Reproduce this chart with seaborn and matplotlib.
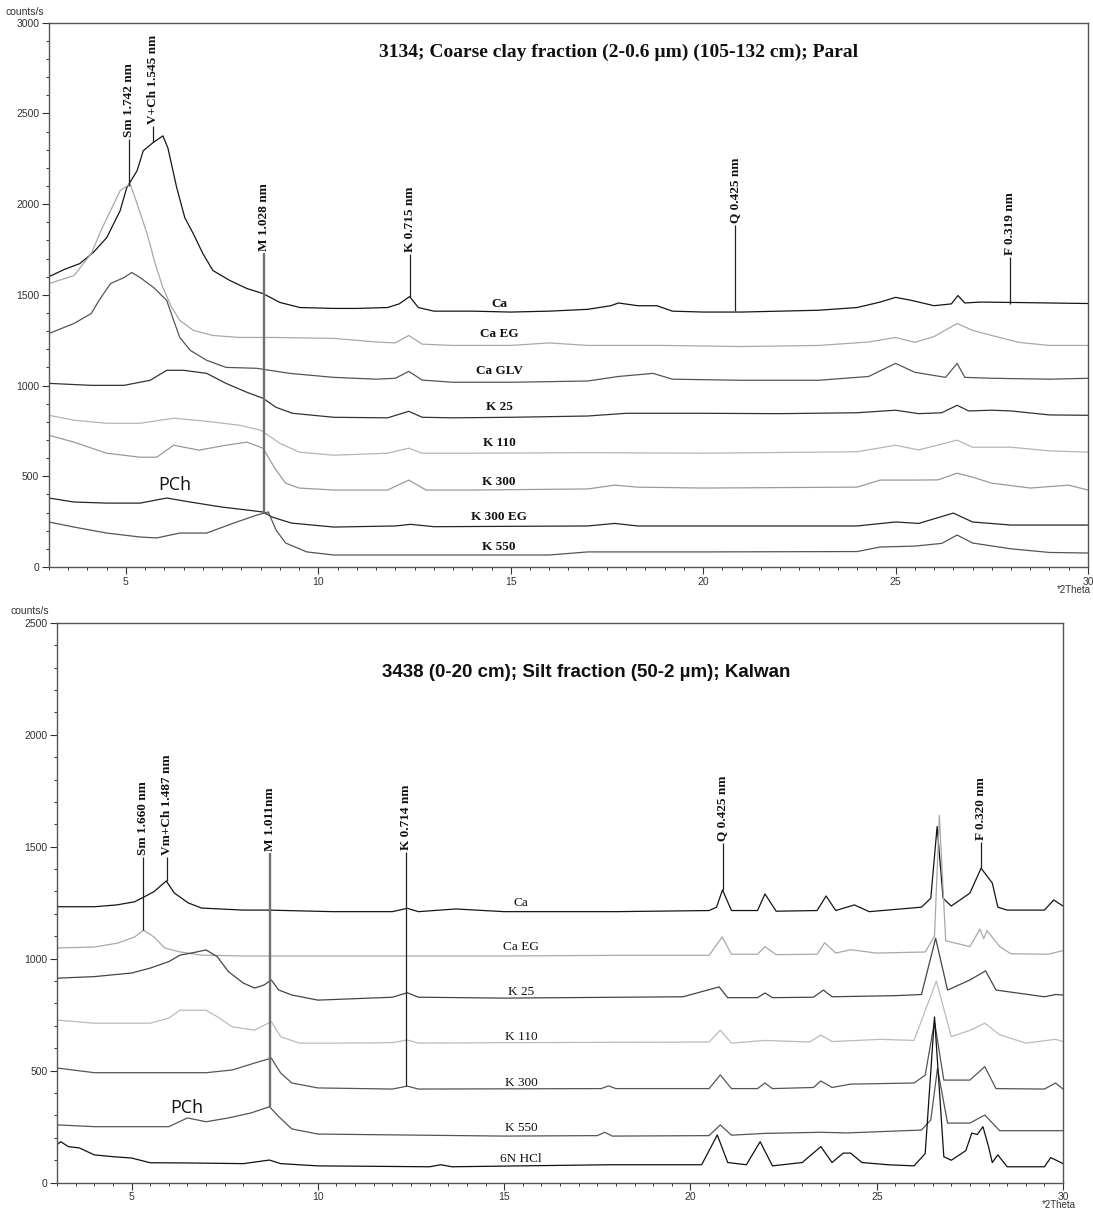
import matplotlib
matplotlib.use("Agg")
import matplotlib.pyplot as plt
from matplotlib.ticker import MultipleLocator
import seaborn as sns

# ---------------- top panel: 3134 coarse clay, Paral ----------------
top_ca_x = [3.0, 3.4, 3.8, 4.15, 4.5, 4.85, 5.02, 5.29, 5.45, 5.7, 5.96, 6.09, 6.32, 6.53, 6.75, 7.0, 7.26, 7.7,
            8.14, 8.56, 9.0, 9.52, 10.4, 11.0, 11.8, 12.1, 12.37, 12.6, 13.0, 14.0, 15.0, 16.0, 17.0, 17.6, 17.8,
            18.3, 18.8, 19.2, 20.0, 21.0, 22.0, 23.0, 24.0, 24.6, 25.0, 25.4, 26.0, 26.45, 26.62, 26.8, 27.2, 28.0,
            29.0, 30.0]
top_ca_y = [1600, 1640, 1672, 1733, 1815, 1964, 2090, 2184, 2294, 2338, 2376, 2310, 2090, 1925, 1837, 1727, 1634,
            1579, 1535, 1507, 1458, 1430, 1425, 1425, 1430, 1450, 1490, 1430, 1410, 1410, 1405, 1410, 1420, 1440,
            1455, 1440, 1440, 1410, 1405, 1405, 1410, 1415, 1430, 1460, 1486, 1470, 1440, 1450, 1496, 1455, 1460,
            1458, 1455, 1452]

top_caeg_x = [3.0, 3.65, 4.1, 4.35, 4.6, 4.85, 5.11, 5.29, 5.55, 5.76, 5.96, 6.19, 6.4, 6.75, 7.26, 7.95, 8.8, 10.4,
              11.5, 12.0, 12.35, 12.7, 13.5, 15.0, 16.0, 17.0, 19.0, 21.0, 23.0, 24.3, 25.0, 25.5, 26.0, 26.6,
              27.0, 27.5, 28.2, 29.0, 30.0]
top_caeg_y = [1562, 1606, 1727, 1854, 1964, 2074, 2112, 2002, 1837, 1672, 1540, 1430, 1359, 1304, 1276, 1265, 1265,
              1260, 1240, 1235, 1276, 1228, 1221, 1221, 1235, 1221, 1221, 1215, 1221, 1240, 1265, 1238, 1270, 1342,
              1304, 1276, 1238, 1221, 1221]

top_cagly_x = [3.0, 3.65, 4.1, 4.3, 4.6, 4.95, 5.15, 5.37, 5.72, 6.06, 6.24, 6.4, 6.67, 7.1, 7.6, 8.4, 9.26, 10.4,
               11.5, 12.0, 12.35, 12.7, 13.5, 15.0, 17.0, 17.8, 18.7, 19.2, 21.0, 23.0, 24.3, 25.0, 25.5, 26.3,
               26.6, 26.8, 27.5, 29.0, 30.0]
top_cagly_y = [1287, 1342, 1397, 1469, 1562, 1595, 1623, 1595, 1540, 1469, 1359, 1265, 1194, 1139, 1100, 1095, 1067,
               1045, 1035, 1040, 1078, 1030, 1018, 1018, 1025, 1050, 1067, 1035, 1029, 1029, 1050, 1122, 1073, 1045,
               1122, 1045, 1040, 1035, 1040]

top_k25_x = [3.0, 4.1, 4.95, 5.63, 6.06, 6.5, 7.1, 7.6, 8.14, 8.56, 8.9, 9.33, 10.4, 11.8, 12.35, 12.7, 13.5, 15.0,
             17.0, 18.0, 20.0, 22.0, 24.0, 25.0, 25.6, 26.2, 26.6, 26.9, 27.5, 28.0, 29.0, 30.0]
top_k25_y = [1012, 1001, 1001, 1029, 1084, 1084, 1067, 1012, 963, 930, 880, 847, 825, 822, 858, 825, 822, 825, 832,
             847, 847, 845, 850, 864, 845, 850, 891, 860, 864, 860, 838, 836]

top_k110_x = [3.0, 3.65, 4.5, 5.37, 6.24, 7.1, 7.95, 8.5, 9.0, 9.5, 10.4, 11.8, 12.35, 12.7, 14.0, 17.0, 20.0, 24.0,
              25.0, 25.6, 26.6, 27.0, 28.0, 29.0, 30.0]
top_k110_y = [836, 809, 792, 792, 820, 803, 781, 754, 682, 633, 616, 627, 655, 627, 627, 630, 627, 635, 671, 645, 699,
              660, 660, 640, 633]

top_k300_x = [3.0, 3.65, 4.5, 5.37, 5.8, 6.24, 6.9, 7.6, 8.14, 8.56, 8.9, 9.15, 9.5, 10.4, 11.8, 12.35, 12.8, 14.0,
              17.0, 17.7, 18.3, 20.0, 24.0, 24.6, 25.5, 26.1, 26.6, 27.0, 27.5, 28.5, 29.5, 30.0]
top_k300_y = [726, 688, 627, 605, 605, 671, 644, 671, 688, 655, 534, 462, 435, 424, 424, 479, 424, 424, 430, 451, 440,
              435, 440, 479, 479, 480, 517, 495, 462, 435, 451, 424]

top_k300eg_x = [3.0, 3.65, 4.5, 5.37, 6.06, 6.67, 7.5, 8.14, 8.56, 8.8, 9.3, 10.4, 12.0, 12.4, 13.0, 17.0, 17.7, 18.3,
                20.0, 24.0, 25.0, 25.6, 26.5, 27.0, 28.0, 30.0]
top_k300eg_y = [380, 358, 352, 352, 380, 358, 330, 314, 303, 275, 242, 220, 226, 235, 222, 226, 240, 226, 226, 226,
                248, 240, 297, 248, 231, 231]

top_k550_x = [3.0, 3.65, 4.5, 5.37, 5.8, 6.4, 7.1, 7.8, 8.4, 8.7, 8.9, 9.15, 9.7, 10.4, 13.0, 16.0, 17.0, 20.0, 24.0,
              24.6, 25.5, 26.2, 26.6, 27.0, 28.0, 29.0, 30.0]
top_k550_y = [248, 220, 187, 165, 160, 187, 187, 242, 286, 303, 204, 132, 83, 66, 66, 66, 83, 83, 85, 110, 115, 130,
              176, 132, 100, 80, 77]

top_names = ["Ca", "Ca EG", "Ca GLV", "K 25", "K 110", "K 300", "K 300 EG", "K 550"]
top_colors = ["#151515", "#a8a8a8", "#555555", "#333333", "#b5b5b5", "#9a9a9a", "#262626", "#555555"]
top_label_y = [1452, 1282, 1078, 880, 682, 468, 275, 110]

top_peak_x = [5.07, 5.70, 8.60, 12.37, 20.84, 27.97]
top_peak_lo = [2100, 2345, 300, 1490, 1410, 1450]
top_peak_hi = [2360, 2431, 1733, 1727, 1887, 1711]
top_peak_txt = ["Sm 1.742 nm", "V+Ch 1.545 nm", "M 1.028 nm", "K 0.715 nm", "Q 0.425 nm", "F 0.319 nm"]

# ---------------- bottom panel: 3438 silt, Kalwan ----------------
bot_ca_x = [3.0, 4.0, 4.6, 5.08, 5.35, 5.6, 5.93, 6.15, 6.52, 6.88, 8.0, 8.66, 10.4, 12.0, 12.4, 12.7, 13.7, 15.0,
            18.0, 20.5, 20.7, 20.86, 21.1, 21.8, 22.0, 22.3, 23.4, 23.64, 23.9, 24.4, 24.8, 26.2, 26.45, 26.62, 26.78,
            27.0, 27.5, 27.8, 28.1, 28.25, 28.5, 29.5, 29.75, 30.0]
bot_ca_y = [1232, 1232, 1240, 1254, 1277, 1299, 1347, 1293, 1249, 1226, 1217, 1217, 1210, 1210, 1225, 1210, 1222,
            1210, 1210, 1215, 1230, 1307, 1215, 1215, 1289, 1212, 1215, 1280, 1215, 1240, 1210, 1230, 1270, 1590,
            1270, 1235, 1293, 1404, 1338, 1230, 1217, 1217, 1262, 1235]

bot_caeg_x = [3.0, 4.0, 4.64, 5.08, 5.32, 5.6, 5.89, 6.27, 6.88, 8.0, 10.0, 12.0, 15.0, 18.0, 20.5, 20.85, 21.1,
              21.8, 22.0, 22.3, 23.4, 23.6, 23.9, 24.3, 25.0, 26.3, 26.55, 26.68, 26.85, 27.5, 27.77, 27.87, 27.96,
              28.3, 28.6, 29.6, 30.0]
bot_caeg_y = [1048, 1052, 1070, 1097, 1127, 1097, 1048, 1031, 1016, 1012, 1012, 1012, 1012, 1015, 1015, 1097, 1020,
              1020, 1054, 1018, 1020, 1071, 1025, 1040, 1025, 1030, 1100, 1640, 1080, 1054, 1132, 1090, 1125, 1054,
              1022, 1020, 1036]

bot_k25_x = [3.0, 4.0, 5.0, 5.5, 6.0, 6.3, 6.6, 7.0, 7.3, 7.6, 8.0, 8.3, 8.55, 8.75, 8.95, 9.3, 10.0, 12.0, 12.4,
             12.7, 15.0, 19.8, 20.77, 21.0, 21.8, 22.0, 22.2, 23.3, 23.57, 23.8, 25.5, 26.2, 26.58, 26.9, 27.5,
             27.92, 28.2, 29.5, 29.8, 30.0]
bot_k25_y = [913, 920, 936, 958, 987, 1016, 1025, 1039, 1009, 942, 891, 869, 882, 905, 860, 838, 815, 828, 848, 828,
             824, 830, 874, 826, 826, 847, 826, 828, 860, 830, 835, 840, 1091, 860, 905, 946, 860, 830, 840, 838]

bot_k110_x = [3.0, 4.0, 5.5, 6.0, 6.3, 7.0, 7.3, 7.7, 8.3, 8.75, 9.0, 9.5, 10.5, 12.0, 12.4, 12.7, 15.0, 20.5, 20.8,
              21.1, 22.0, 23.2, 23.5, 23.8, 25.1, 26.0, 26.6, 27.0, 27.5, 27.9, 28.3, 28.5, 29.0, 29.8, 30.0]
bot_k110_y = [726, 712, 712, 735, 770, 770, 741, 696, 681, 719, 652, 623, 623, 625, 637, 623, 625, 628, 681, 623, 635,
              628, 659, 630, 640, 635, 900, 652, 680, 712, 660, 650, 623, 640, 630]

bot_k300_x = [3.0, 4.0, 7.0, 7.7, 8.3, 8.75, 9.0, 9.3, 10.0, 12.0, 12.4, 12.7, 17.6, 17.8, 18.0, 20.5, 20.8, 21.1,
              21.8, 22.0, 22.2, 23.3, 23.5, 23.8, 24.3, 26.0, 26.3, 26.55, 26.8, 27.5, 27.9, 28.2, 29.5, 29.8, 30.0]
bot_k300_y = [512, 491, 491, 503, 534, 556, 490, 445, 423, 418, 431, 418, 420, 432, 420, 420, 481, 420, 420, 445, 420,
              425, 454, 425, 440, 445, 480, 720, 458, 458, 518, 420, 418, 445, 418]

bot_k550_x = [3.0, 4.0, 6.0, 6.5, 7.0, 7.6, 8.2, 8.7, 8.95, 9.3, 10.0, 15.0, 17.5, 17.7, 17.9, 20.5, 20.8, 21.1,
              22.0, 23.5, 24.2, 26.2, 26.45, 26.63, 26.9, 27.5, 27.9, 28.3, 28.5, 30.0]
bot_k550_y = [258, 250, 250, 289, 272, 289, 311, 339, 295, 240, 217, 208, 210, 225, 208, 210, 258, 212, 220, 225, 222,
              235, 280, 510, 266, 266, 302, 232, 232, 232]

bot_hcl_x = [3.0, 3.1, 3.3, 3.6, 4.0, 4.5, 5.0, 5.5, 6.5, 8.0, 8.7, 9.0, 10.0, 13.0, 13.3, 13.6, 17.8, 20.3, 20.72,
             21.0, 21.5, 21.87, 22.2, 23.0, 23.5, 23.8, 24.1, 24.3, 24.6, 25.3, 26.0, 26.3, 26.55, 26.8, 27.0, 27.39,
             27.55, 27.7, 27.85, 28.0, 28.1, 28.25, 28.5, 29.5, 29.67, 30.0]
bot_hcl_y = [170, 183, 161, 155, 124, 116, 110, 89, 88, 85, 101, 85, 75, 71, 80, 71, 80, 80, 213, 90, 80, 183, 75, 90,
             161, 90, 132, 132, 90, 80, 75, 130, 740, 116, 100, 143, 221, 215, 250, 161, 90, 124, 71, 71, 112, 85]

bot_names = ["Ca", "Ca EG", "K 25", "K 110", "K 300", "K 550", "6N HCl"]
bot_colors = ["#151515", "#a8a8a8", "#444444", "#bbbbbb", "#555555", "#555555", "#111111"]
bot_label_y = [1250, 1054, 853, 652, 446, 244, 106]

bot_peak_x = [5.31, 5.96, 8.72, 12.37, 20.86, 27.8]
bot_peak_lo = [1127, 1347, 339, 431, 1307, 1404]
bot_peak_hi = [1454, 1454, 1472, 1478, 1518, 1522]
bot_peak_txt = ["Sm 1.660 nm", "Vm+Ch 1.487 nm", "M 1.011nm", "K 0.714 nm", "Q 0.425 nm", "F 0.320 nm"]

top_series = [(top_ca_x, top_ca_y), (top_caeg_x, top_caeg_y), (top_cagly_x, top_cagly_y), (top_k25_x, top_k25_y),
              (top_k110_x, top_k110_y), (top_k300_x, top_k300_y), (top_k300eg_x, top_k300eg_y),
              (top_k550_x, top_k550_y)]
bot_series = [(bot_ca_x, bot_ca_y), (bot_caeg_x, bot_caeg_y), (bot_k25_x, bot_k25_y), (bot_k110_x, bot_k110_y),
              (bot_k300_x, bot_k300_y), (bot_k550_x, bot_k550_y), (bot_hcl_x, bot_hcl_y)]

sns.set_style("ticks")
plt.rcParams['font.family'] = ['Liberation Sans', 'DejaVu Sans']

fig = plt.figure(figsize=(10.93, 12.12), dpi=100)
ax1 = fig.add_axes([0.0448, 0.5322, 0.9506, 0.4491])
ax2 = fig.add_axes([0.0522, 0.0242, 0.9204, 0.462])


def style_axis(ax, ymax):
    ax.set_xlim(3, 30)
    ax.set_ylim(0, ymax)
    ax.xaxis.set_major_locator(MultipleLocator(5))
    ax.xaxis.set_minor_locator(MultipleLocator(0.5))
    ax.yaxis.set_major_locator(MultipleLocator(500))
    ax.yaxis.set_minor_locator(MultipleLocator(100))
    ax.tick_params(which='major', direction='out', length=5, width=0.8, labelsize=7.5, colors='#333333', pad=2)
    ax.tick_params(which='minor', direction='out', length=2.5, width=0.7, colors='#333333')
    for s in ax.spines.values():
        s.set_color('#555555')
        s.set_linewidth(1.0)
    ax.set_xlabel('')
    ax.set_ylabel('')


def draw_panel(ax, series, colors, names, label_y, label_x, label_bold,
               pk_x, pk_lo, pk_hi, pk_txt, m_index):
    for (xs, ys), c in zip(series, colors):
        sns.lineplot(x=xs, y=ys, ax=ax, color=c, linewidth=0.9, estimator=None, sort=False, legend=False)
    for i, (px, lo, hi, t) in enumerate(zip(pk_x, pk_lo, pk_hi, pk_txt)):
        if i == m_index:
            ax.vlines(px, lo, hi, colors='#707070', linewidth=1.7)
        else:
            ax.vlines(px, lo, hi, colors='#222222', linewidth=0.9)
        ax.text(px, hi + 8, t, rotation=90, ha='center', va='bottom', fontsize=9.5,
                family='Liberation Serif', weight='bold', color='#111111')
    for n, y in zip(names, label_y):
        ax.text(label_x, y, n, ha='center', va='center', fontsize=9.5, family='Liberation Serif',
                weight='bold' if label_bold else 'normal', color='#111111')


draw_panel(ax1, top_series, top_colors, top_names, top_label_y, 14.7, True,
           top_peak_x, top_peak_lo, top_peak_hi, top_peak_txt, 2)
style_axis(ax1, 3000)
ax1.text(17.79, 2839, "3134; Coarse clay fraction (2-0.6 \u00b5m) (105-132 cm); Paral", ha='center', va='center',
         fontsize=14, family='Liberation Serif', weight='bold', color='#111111')
ax1.text(6.27, 451, "PCh", ha='center', va='center', fontsize=13, family='Open Sans', color='#111111')

draw_panel(ax2, bot_series, bot_colors, bot_names, bot_label_y, 15.45, False,
           bot_peak_x, bot_peak_lo, bot_peak_hi, bot_peak_txt, 2)
style_axis(ax2, 2500)
ax2.text(17.21, 2280, "3438 (0-20 cm); Silt fraction (50-2 \u00b5m); Kalwan", ha='center', va='center',
         fontsize=13.5, family='Liberation Sans', weight='bold', color='#111111')
ax2.text(6.47, 333, "PCh", ha='center', va='center', fontsize=13, family='Open Sans', color='#111111')

fig.text(25 / 1093, 1 - 12 / 1212, "counts/s", ha='center', va='center', fontsize=7.5, color='#333333')
fig.text(1091 / 1093, 1 - 590 / 1212, "*2Theta", ha='right', va='center', fontsize=7, color='#333333')
fig.text(30 / 1093, 1 - 611 / 1212, "counts/s", ha='center', va='center', fontsize=7.5, color='#333333')
fig.text(1076 / 1093, 1 - 1205 / 1212, "*2Theta", ha='right', va='center', fontsize=7, color='#333333')

fig.savefig("out.png", dpi=100, facecolor='white')
